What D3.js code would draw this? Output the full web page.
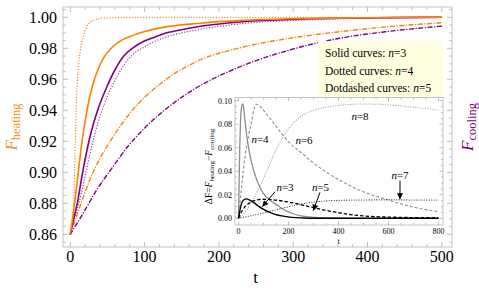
<!DOCTYPE html>
<html>
<head>
<meta charset="utf-8">
<script src="https://cdn.jsdelivr.net/npm/d3@7"></script>
<style>
  html, body { margin: 0; padding: 0; background: #fff; }
  svg { display: block; font-family: 'Liberation Serif', 'Times New Roman', serif; }
</style>
</head>
<body>
<svg id="chart" width="479" height="290"></svg>
<script>
// ── DATA: main panel, [t, F] ─────────────────────────────────────────────
const heatN3 = [[0,0.86],[5,0.877],[10,0.897],[15,0.917],[20,0.933],[25,0.946],[30,0.956],[37,0.966],[45,0.974],[55,0.98],[65,0.984],[85,0.9885],[100,0.9908],[125,0.9935],[175,0.9962],[230,0.998],[300,0.9991],[400,0.9997],[500,1.0]];
const coolN3 = [[0,0.86],[4,0.869],[9,0.879],[16.6,0.9],[26,0.922],[37.5,0.941],[50,0.956],[60,0.966],[72,0.975],[85,0.9805],[99,0.9845],[115,0.9875],[130,0.99],[150,0.992],[175,0.9942],[228,0.997],[296,0.9986],[363,0.9994],[430,0.9998],[500,1.0]];
const heatN4 = [[0,0.86],[2,0.868],[4.5,0.88],[6.8,0.922],[8.5,0.948],[10.4,0.965],[13,0.977],[16.6,0.986],[22.5,0.994],[31,0.998],[45,0.9995],[100,1.0],[500,1.0]];
const coolN4 = [[0,0.86],[5,0.869],[11,0.879],[21,0.9],[31.5,0.922],[45,0.943],[62,0.961],[84,0.976],[100,0.981],[114,0.9845],[130,0.9875],[150,0.99],[175,0.9923],[228,0.9958],[300,0.998],[363,0.999],[430,0.9996],[500,0.9999]];
const heatN5 = [[0,0.86],[13,0.878],[27,0.896],[40,0.909],[55,0.921],[80,0.938],[125,0.9585],[170,0.9715],[230,0.9805],[296,0.9865],[363,0.9907],[430,0.994],[500,0.9965]];
const coolN5 = [[0,0.86],[19,0.875],[34,0.8875],[55,0.902],[79,0.9176],[101,0.929],[124,0.939],[168,0.954],[228,0.968],[296,0.979],[363,0.9865],[430,0.991],[500,0.9943]];

const xTicks = [0, 100, 200, 300, 400, 500];
const yTicks = [0.86, 0.88, 0.90, 0.92, 0.94, 0.96, 0.98, 1.00];

// ── DATA: inset, [t, ΔF] ─────────────────────────────────────────────────
const dN3 = [[0,0],[5,0.006],[10,0.011],[18,0.015],[30,0.0165],[45,0.0155],[60,0.0135],[79,0.0105],[100,0.0075],[125,0.005],[146,0.0034],[180,0.0018],[213,0.0008],[260,0.0003],[320,0.0001],[800,0]];
const dN4 = [[0,0],[2,0.025],[5,0.06],[8,0.083],[12,0.094],[16,0.0972],[20,0.095],[26,0.083],[33,0.07],[42,0.058],[55,0.045],[66,0.037],[80,0.029],[100,0.021],[125,0.0155],[146,0.0125],[180,0.0075],[213,0.0043],[250,0.002],[293,0.001],[350,0.0003],[450,0],[800,0]];
const dN5 = [[0,0],[10,0.0045],[26,0.0099],[40,0.0125],[53,0.0141],[70,0.0155],[93,0.0162],[120,0.0161],[160,0.0152],[213,0.0133],[260,0.011],[306,0.0087],[360,0.0063],[413,0.0043],[446,0.0032],[500,0.002],[550,0.0014],[646,0.0008],[800,0.0004]];
const dN6 = [[0,0],[10,0.022],[26,0.052],[40,0.07],[53,0.083],[62,0.093],[70,0.097],[85,0.0955],[100,0.092],[126,0.085],[160,0.0755],[200,0.065],[250,0.056],[300,0.047],[400,0.033],[500,0.0225],[600,0.0155],[700,0.0095],[800,0.0056]];
const dN7 = [[0,0],[50,0.0022],[100,0.0045],[146,0.007],[200,0.0098],[250,0.0122],[300,0.0138],[350,0.0148],[400,0.0153],[500,0.0156],[600,0.0157],[700,0.0156],[800,0.0155]];
const dN8 = [[0,0],[25,0.005],[50,0.013],[75,0.023],[100,0.034],[125,0.046],[150,0.058],[180,0.07],[220,0.081],[260,0.088],[320,0.093],[400,0.096],[500,0.0972],[600,0.0965],[700,0.0945],[800,0.092]];

const insetXTicks = [0, 200, 400, 600, 800];
const insetYTicks = [0.00, 0.02, 0.04, 0.06, 0.08, 0.10];

// labels in the inset, anchored in data coords [t, ΔF]
const insetNotes = [
  { n: '4', at: [86, 0.0638] },
  { n: '6', at: [262, 0.0636] },
  { n: '8', at: [486, 0.084] },
  { n: '3', at: [186, 0.0232] },
  { n: '5', at: [328, 0.0232] },
  { n: '7', at: [646, 0.0334] }
];
const insetArrows = [
  { from: [146, 0.0226], to: [95, 0.0099] },
  { from: [326, 0.0221], to: [299, 0.0065] },
  { from: [646, 0.032], to: [646, 0.0162] }
];

const ORANGE = '#ff8000';
const PURPLE = '#800080';
const FRAME = '#b4b4b4';
const TICK = '#a0a0a0';

const svg = d3.select('#chart');

// ── MAIN PANEL ────────────────────────────────────────────────────────────
const box = { x0: 63, x1: 452, y0: 7, y1: 247 };
const x = d3.scaleLinear().domain([0, 500]).range([70.3, 441.8]);
const y = d3.scaleLinear().domain([0.86, 1.00]).range([234.3, 17.3]);

svg.append('clipPath').attr('id', 'clip-main').append('rect')
  .attr('x', box.x0).attr('y', box.y0).attr('width', box.x1 - box.x0).attr('height', box.y1 - box.y0);

const drawFrame = (g, b, xs, ys, xMaj, xMin, yMaj, yMin, majLen, minLen) => {
  const ticks = g.append('g').attr('stroke', TICK).attr('stroke-width', 0.7);
  const vTicks = (vals, len) => vals.forEach(v => {
    const px = xs(v);
    ticks.append('line').attr('x1', px).attr('x2', px).attr('y1', b.y1).attr('y2', b.y1 - len);
    ticks.append('line').attr('x1', px).attr('x2', px).attr('y1', b.y0).attr('y2', b.y0 + len);
  });
  const hTicks = (vals, len) => vals.forEach(v => {
    const py = ys(v);
    ticks.append('line').attr('y1', py).attr('y2', py).attr('x1', b.x0).attr('x2', b.x0 + len);
    ticks.append('line').attr('y1', py).attr('y2', py).attr('x1', b.x1).attr('x2', b.x1 - len);
  });
  vTicks(xMaj, majLen); vTicks(xMin, minLen);
  hTicks(yMaj, majLen); hTicks(yMin, minLen);
  g.append('rect').attr('x', b.x0).attr('y', b.y0)
    .attr('width', b.x1 - b.x0).attr('height', b.y1 - b.y0)
    .attr('fill', 'none').attr('stroke', FRAME).attr('stroke-width', 0.8);
};

const near = (v, list) => list.some(t => Math.abs(t - v) < 1e-9);
const mainXMinor = d3.range(0, 501, 20).filter(v => !near(v, xTicks));
const mainYMinor = d3.range(0, 31).map(i => +(0.855 + i * 0.005).toFixed(3))
  .filter(v => !near(v, yTicks) && y(v) > box.y0 && y(v) < box.y1);

drawFrame(svg.append('g'), box, x, y, xTicks, mainXMinor, yTicks, mainYMinor, 5, 2.8);

const line = d3.line().x(d => x(d[0])).y(d => y(d[1])).curve(d3.curveMonotoneX);
const DOT = '0.1 2.7';
const DOTDASH = '4 2.6 0.1 2.6';
const mainSeries = [
  { data: heatN5, color: ORANGE, dash: DOTDASH, w: 1.4 },
  { data: coolN5, color: PURPLE, dash: DOTDASH, w: 1.4 },
  { data: coolN4, color: '#9a3a9a', dash: DOT, w: 1.3 },
  { data: heatN4, color: ORANGE, dash: DOT, w: 1.3 },
  { data: coolN3, color: PURPLE, dash: null, w: 1.6 },
  { data: heatN3, color: ORANGE, dash: null, w: 1.6 }
];
const curves = svg.append('g').attr('clip-path', 'url(#clip-main)');
mainSeries.forEach(s => {
  curves.append('path').attr('d', line(s.data))
    .attr('fill', 'none').attr('stroke', s.color).attr('stroke-width', s.w)
    .attr('stroke-linecap', s.dash ? 'round' : 'butt')
    .attr('stroke-dasharray', s.dash);
});

// tick labels
svg.append('g').selectAll('text').data(xTicks).join('text')
  .attr('x', d => x(d)).attr('y', 262).attr('text-anchor', 'middle')
  .attr('font-size', 16).text(d => d);
svg.append('g').selectAll('text').data(yTicks).join('text')
  .attr('x', 57).attr('y', d => y(d) + 5.5).attr('text-anchor', 'end')
  .attr('font-size', 16).text(d => d.toFixed(2));

svg.append('text').attr('x', 255.5).attr('y', 283).attr('text-anchor', 'middle')
  .attr('font-size', 17).text('t');

const sideLabel = (px, py, sub, color) => {
  const t = svg.append('text').attr('transform', `translate(${px},${py}) rotate(-90)`)
    .attr('text-anchor', 'middle').attr('fill', color);
  t.append('tspan').attr('font-style', 'italic').attr('font-size', 17).text('F');
  t.append('tspan').attr('font-size', 12.5).attr('dy', 3).text(sub);
};
sideLabel(17, 127, 'heating', '#f7931e');
sideLabel(473, 127, 'cooling', PURPLE);

// ── LEGEND ────────────────────────────────────────────────────────────────
const legendRows = [['Solid curves: ', '3'], ['Dotted curves: ', '4'], ['Dotdashed curves: ', '5']];
svg.append('rect').attr('x', 318).attr('y', 41).attr('width', 125).attr('height', 57).attr('fill', '#ffffe0');
legendRows.forEach((r, i) => {
  const t = svg.append('text').attr('x', 325).attr('y', 57 + i * 17.6).attr('font-size', 11.5);
  t.append('tspan').text(r[0]);
  t.append('tspan').attr('font-style', 'italic').text('n');
  t.append('tspan').text('=' + r[1]);
});

// ── INSET ─────────────────────────────────────────────────────────────────
const ibox = { x0: 235, x1: 443, y0: 97.5, y1: 225 };
const xi = d3.scaleLinear().domain([0, 800]).range([238.5, 438.5]);
const yi = d3.scaleLinear().domain([0, 0.1]).range([218.3, 100.7]);

svg.append('rect').attr('x', 199).attr('y', ibox.y0 - 0.5).attr('width', 248).attr('height', 145)
  .attr('fill', '#fff');

const insetXMinor = d3.range(0, 801, 50).filter(v => !near(v, insetXTicks));
const insetYMinor = d3.range(0, 21).map(i => +(i * 0.005).toFixed(3)).filter(v => !near(v, insetYTicks));
drawFrame(svg.append('g'), ibox, xi, yi, insetXTicks, insetXMinor, insetYTicks, insetYMinor, 3.5, 2);

svg.append('clipPath').attr('id', 'clip-inset').append('rect')
  .attr('x', ibox.x0).attr('y', ibox.y0).attr('width', ibox.x1 - ibox.x0).attr('height', ibox.y1 - ibox.y0);

const iline = d3.line().x(d => xi(d[0])).y(d => yi(d[1])).curve(d3.curveMonotoneX);
const GRAY = '#8c8c8c';
const insetSeries = [
  { data: dN8, color: '#999', dash: '0.1 2.4', w: 1.1 },
  { data: dN6, color: GRAY, dash: '3 2', w: 1.1 },
  { data: dN4, color: GRAY, dash: null, w: 1.3 },
  { data: dN7, color: '#222', dash: '0.1 2.4', w: 1.1 },
  { data: dN5, color: '#000', dash: '3.5 2', w: 1.3 },
  { data: dN3, color: '#000', dash: null, w: 1.4 }
];
const icurves = svg.append('g').attr('clip-path', 'url(#clip-inset)');
insetSeries.forEach(s => {
  icurves.append('path').attr('d', iline(s.data))
    .attr('fill', 'none').attr('stroke', s.color).attr('stroke-width', s.w)
    .attr('stroke-linecap', s.dash && s.dash.startsWith('0.1') ? 'round' : 'butt')
    .attr('stroke-dasharray', s.dash);
});

svg.append('g').selectAll('text').data(insetXTicks).join('text')
  .attr('x', d => xi(d)).attr('y', 233.5).attr('text-anchor', 'middle')
  .attr('font-size', 8).text(d => d);
svg.append('g').selectAll('text').data(insetYTicks).join('text')
  .attr('x', 232).attr('y', d => yi(d) + 2.8).attr('text-anchor', 'end')
  .attr('font-size', 8).text(d => d.toFixed(2));
svg.append('text').attr('x', xi(400)).attr('y', 243.5).attr('text-anchor', 'middle')
  .attr('font-size', 8).text('t');

const dl = svg.append('text').attr('transform', 'translate(212,166.5) rotate(-90)')
  .attr('text-anchor', 'middle').attr('font-size', 9.5);
dl.append('tspan').text('ΔF=');
dl.append('tspan').attr('font-style', 'italic').text('F');
dl.append('tspan').attr('font-size', 7).attr('dy', 2).text('heating');
dl.append('tspan').attr('dy', -2).text('−');
dl.append('tspan').attr('font-style', 'italic').text('F');
dl.append('tspan').attr('font-size', 7).attr('dy', 2).text('cooling');

// n= labels and arrows
insetNotes.forEach(d => {
  const t = svg.append('text').attr('x', xi(d.at[0])).attr('y', yi(d.at[1]))
    .attr('text-anchor', 'middle').attr('font-size', 11);
  t.append('tspan').attr('font-style', 'italic').text('n');
  t.append('tspan').text('=' + d.n);
});

svg.append('defs').append('marker').attr('id', 'head')
  .attr('viewBox', '0 0 10 10').attr('refX', 10).attr('refY', 5)
  .attr('markerUnits', 'userSpaceOnUse').attr('markerWidth', 7).attr('markerHeight', 6)
  .attr('orient', 'auto')
  .append('path').attr('d', 'M0,0 L10,5 L0,10 z').attr('fill', '#000');
insetArrows.forEach(a => {
  svg.append('line')
    .attr('x1', xi(a.from[0])).attr('y1', yi(a.from[1]))
    .attr('x2', xi(a.to[0])).attr('y2', yi(a.to[1]))
    .attr('stroke', '#000').attr('stroke-width', 1).attr('marker-end', 'url(#head)');
});
</script>
</body>
</html>
